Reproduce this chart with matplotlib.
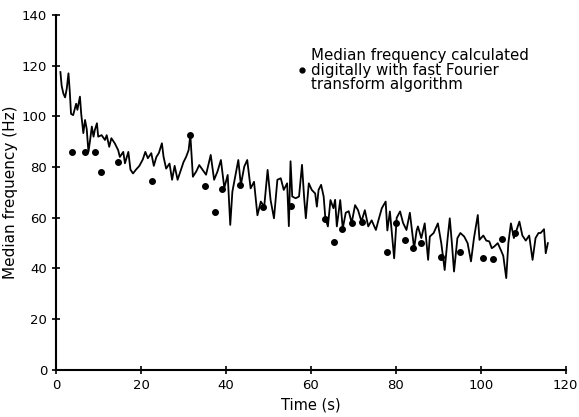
import matplotlib
matplotlib.use("Agg")
import matplotlib.pyplot as plt

# Continuous median frequency trace (Hz) vs time (s)
line_t = [1.0, 1.3, 1.7, 2.1, 2.5, 2.9, 3.2, 3.5, 4.0, 4.7, 5.0, 5.6, 5.9, 6.4, 6.8, 7.2, 7.6, 8.0, 8.4, 8.8,
          9.1, 9.6, 9.9, 10.7, 11.5, 11.9, 12.5, 13.0, 13.8, 14.6, 15.0, 15.8, 16.2, 17.0, 17.5, 18.1, 18.8,
          19.6, 20.4, 21.0, 21.6, 22.4, 23.0, 23.6, 24.2, 24.9, 25.3, 25.9, 26.7, 27.3, 27.9, 28.6, 29.4,
          30.0, 30.6, 31.2, 31.6, 32.2, 33.0, 33.7, 34.5, 35.3, 36.4, 37.2, 38.0, 38.8, 39.6, 40.4, 41.0,
          41.5, 42.3, 42.9, 43.5, 44.3, 45.0, 45.8, 46.6, 47.4, 48.2, 49.0, 49.8, 50.5, 51.3, 52.1, 52.9,
          53.6, 54.4, 54.8, 55.2, 55.6, 56.4, 57.2, 57.9, 58.4, 58.8, 59.5, 60.2, 61.0, 61.4, 61.8, 62.4,
          63.0, 63.4, 64.0, 64.6, 65.3, 65.7, 66.1, 66.9, 67.5, 68.2, 68.9, 69.6, 70.4, 71.1, 71.9, 72.7,
          73.5, 74.3, 75.3, 75.9, 76.7, 77.6, 78.0, 78.6, 79.2, 79.6, 80.2, 81.0, 81.7, 82.5, 83.3, 84.3,
          84.9, 85.2, 86.0, 86.8, 87.6, 88.0, 88.9, 89.9, 90.7, 91.5, 92.2, 92.7, 93.2, 93.7, 94.5, 95.2,
          96.1, 96.9, 97.7, 98.4, 99.3, 99.7, 100.6, 101.3, 102.0, 102.6, 103.2, 104.0, 104.8, 105.3,
          106.0, 106.5, 107.1, 107.8, 108.4, 109.1, 109.8, 110.6, 111.4, 112.2, 112.9, 113.6, 114.1,
          114.9, 115.3, 115.8]
line_f = [117.5, 112, 109, 107.5, 111, 117, 110, 101, 100.5, 105, 102.6, 107.8, 101, 93.4, 98.6, 95, 86, 90.7, 96, 92,
          94.6, 97.3, 92, 92.6, 90.7, 92.6, 88, 91.4, 89.4, 86.7, 84, 86, 81.5, 86, 79, 77.5, 79,
          80.5, 83, 86, 83.5, 85.5, 80.5, 84, 85.6, 89.4, 84, 79.4, 81.4, 75, 80.5, 75, 79,
          82, 84, 86.7, 92.7, 76.2, 78.3, 80.8, 78.9, 77, 84.8, 75, 78.3, 82.8, 71.8, 76.9, 57.2,
          70.3, 77.5, 82.8, 73, 80.2, 82.8, 71.6, 74.2, 61, 66.4, 64.4, 78.9, 67, 59.8, 75, 75.6,
          71, 73.6, 56.7, 82.3, 68.4, 67.7, 68.4, 80.9, 68, 59.8, 73.6, 71, 69.6, 64.4, 71, 73,
          68.4, 59.8, 56.6, 67, 63.8, 67.1, 56.6, 67, 55.8, 62, 62.6, 58, 65, 63, 58.5, 63,
          56.6, 59, 55.2, 59, 63.8, 66.4, 55, 62.5, 51.3, 44, 60, 62.5, 58, 55.2, 62, 48,
          55, 56.6, 52, 57.8, 43.4, 52.6, 54, 57.8, 50, 39.4, 52, 59.8, 50, 38.8, 52, 54,
          52.6, 50, 42.8, 52, 61.1, 51.3, 53, 51, 50.7, 48, 48.7, 50, 47, 45,
          36.2, 50, 57.8, 52, 55, 58.5, 53, 51, 53, 43.4, 52, 54, 54,
          55.5, 46, 50]

# FFT median frequency points
fft_t = [3.7, 6.8, 9.2, 10.5, 14.6, 22.5, 31.6, 35.0, 37.3, 39.0, 43.2, 48.7, 55.2, 63.3, 65.4, 67.4,
         69.6, 72.0, 78.0, 80.1, 82.1, 84.1, 86.0, 90.6, 95.0, 100.5, 102.8, 105.1, 108.1]
fft_f = [86, 86, 86, 78, 82, 74.5, 92.7, 72.6, 62.4, 71.5, 73, 64.3, 64.7, 59.7, 50.6, 55.7,
         58, 58.3, 46.5, 58, 51.1, 48, 50, 44.4, 46.6, 44, 43.8, 51.5, 53.9]

x_ticks = [0, 20, 40, 60, 80, 100, 120]
y_ticks = [0, 20, 40, 60, 80, 100, 120, 140]

fig = plt.figure(figsize=(5.79, 4.17), dpi=100)
ax = fig.add_axes([0.097, 0.113, 0.880, 0.851])

ax.plot(line_t, line_f, color="black", lw=1.3)
ax.plot(fft_t, fft_f, "o", color="black", ms=4)

ax.set_xlim(0, 120)
ax.set_ylim(0, 140)
ax.set_xticks(x_ticks)
ax.set_yticks(y_ticks)
ax.spines["top"].set_visible(False)
ax.spines["right"].set_visible(False)
ax.spines["left"].set_linewidth(1.5)
ax.spines["bottom"].set_linewidth(1.5)
ax.tick_params(direction="inout", length=6, width=1.2, labelsize=9.5)

ax.set_xlabel("Time (s)", fontsize=10.5, labelpad=4)
ax.set_ylabel("Median frequency (Hz)", fontsize=11, labelpad=3)

fig.text(311/579, 1 - 70/417, "Median frequency calculated\ndigitally with fast Fourier\ntransform algorithm",
         fontsize=10.8, va="center", ha="left", linespacing=0.95)
fig.lines.append(plt.Line2D([302/579], [1 - 70/417], marker="o", ms=3.5, color="black",
                            transform=fig.transFigure))

fig.savefig("out.png", dpi=100)
